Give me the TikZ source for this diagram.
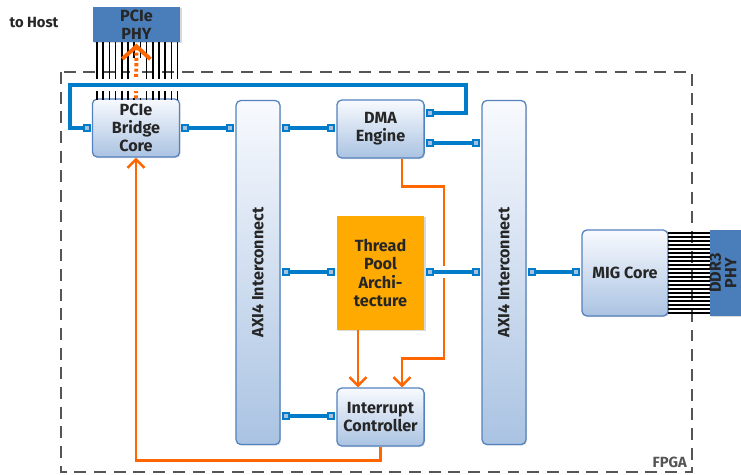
\documentclass[tikz,border=0pt]{standalone}
\usepackage{fontspec}
\setmainfont{Fira Sans}
\usepackage{xcolor}
\usetikzlibrary{arrows.meta, shadows, calc}
\definecolor{busblue}{RGB}{0,124,200}
\definecolor{boxline}{RGB}{84,130,190}
\definecolor{boxtop}{RGB}{248,250,254}
\definecolor{boxbottom}{RGB}{170,195,226}
\definecolor{phyblue}{RGB}{74,126,187}
\definecolor{portfill}{RGB}{165,192,224}
\definecolor{irqorange}{RGB}{255,102,0}
\definecolor{poolorange}{RGB}{255,170,0}
\definecolor{fpgagray}{RGB}{85,85,85}
\newcommand{\blockfont}{\bfseries\fontsize{11.5}{13}\selectfont}

\begin{document}
\begin{tikzpicture}[x=0.025cm, y=-0.025cm,
    block/.style={draw=boxline, line width=0.9pt, rounded corners=3.5pt,
        top color=boxtop, bottom color=boxbottom, align=center,
        font=\blockfont, text=black!85,
        minimum width=2.18cm, minimum height=1.45cm,
        drop shadow={opacity=0.25, shadow xshift=0.8pt, shadow yshift=-0.8pt}},
    axibox/.style={block, minimum width=1.1cm, minimum height=8.6cm},
    poolbox/.style={fill=poolorange, align=center, font=\blockfont, text=black!85,
        minimum width=2.18cm, minimum height=2.85cm,
        drop shadow={opacity=0.3, shadow xshift=1pt, shadow yshift=-1pt}},
    phybox/.style={fill=phyblue, align=center, font=\blockfont, text=black!85,
        drop shadow={opacity=0.3, shadow xshift=1pt, shadow yshift=-1pt}},
    vtext/.style={rotate=90, font=\blockfont, text=black!85, align=center},
    port/.style={draw=busblue, fill=portfill, line width=1.3pt,
        minimum size=0.17cm, inner sep=0pt},
    bus/.style={busblue, line width=2.6pt},
    gap/.style={white, line width=8pt},
    irq/.style={irqorange, line width=1.8pt,
        -{Straight Barb[length=6pt, width=12pt]}},
    wire/.style={black, line width=1pt}
]
\useasboundingbox (0,0) rectangle (741,474);

% FPGA border
\draw[fpgagray, line width=1.3pt, dash pattern=on 8.5pt off 5.5pt]
    (61,72) rectangle (692,472);
\node[fpgagray, font=\bfseries\fontsize{10.5}{12}\selectfont, anchor=south east, inner sep=2pt] (fpga) at (690,471) {FPGA};

% host side
\node[font=\bfseries\fontsize{10.5}{12}\selectfont, text=black!85] (host) at (34,23) {to Host};
\node[phybox, minimum width=2.18cm, minimum height=0.875cm, inner sep=0pt] (pciephy) at (136.5,24.5) {PCIe\\PHY};

% blocks
\node[block] (bridge) at (136,128) {PCIe\\Bridge\\Core};
\node[axibox] (axil) at (258,272.5) {};
\node[vtext] (axiltext) at (axil.center) {AXI4 Interconnect};
\node[block] (dma) at (380.5,129) {DMA\\Engine};
\node[poolbox] (pool) at (380.5,273) {Thread\\Pool\\Archi-\\tecture};
\node[block] (irqc) at (380.5,417) {Interrupt\\Controller};
\node[axibox] (axir) at (504,272.5) {};
\node[vtext] (axirtext) at (axir.center) {AXI4 Interconnect};
\node[block, minimum width=2.15cm, minimum height=2.15cm] (mig) at (625,273) {MIG Core};
\node[phybox, minimum width=2.2cm, minimum height=2.15cm] (ddrphy) at (754,273) {};
\node[vtext, inner sep=1pt] (ddrtext) at (723,273) {DDR3\\[-2pt]PHY};

% wire bundles
\foreach \x in {97,103.2,...,178} {
    \draw[wire] (\x,42) -- (\x,100);
}
\foreach \y in {233,237,...,314} {
    \draw[wire] (668,\y) -- (710,\y);
}

% PCIe link
\draw[white, line width=8pt] (bridge.north) -- ++(0,-40);
\draw[irqorange, line width=2.8pt, dash pattern=on 2.2pt off 1.6pt, shorten >=1pt,
    -{Straight Barb[length=9pt, width=20pt]}] (bridge.north) -- (pciephy.south);

% interrupts
\draw[irq] ($(dma.south)+(21.5,0)$) -- ++(0,28) -- ++(42,0) -- ++(0,172)
    -- ++(-42,0) -- ($(irqc.north)+(21.5,0)$);
\draw[irq] ($(pool.south)+(-22.5,0)$) -- ($(irqc.north)+(-22.5,0)$);
\draw[irq] (irqc.south) -- ++(0,14) -| (bridge.south);

% ports
\node[port] (bridge-w) at (87,128) {};
\node[port] (bridge-e) at (185,128) {};
\node[port] (axil-w) at (230,128) {};
\node[port] (axil-e1) at (286,128) {};
\node[port] (axil-e2) at (286,272) {};
\node[port] (axil-e3) at (286,416) {};
\node[port] (dma-w) at (331,128) {};
\node[port] (dma-e1) at (430,113) {};
\node[port] (dma-e2) at (430,143) {};
\node[port] (pool-w) at (331,272) {};
\node[port] (pool-e) at (430,272) {};
\node[port] (irqc-w) at (331,416) {};
\node[port] (axir-w1) at (476,143) {};
\node[port] (axir-w2) at (476,272) {};
\node[port] (axir-e) at (532,272) {};
\node[port] (mig-w) at (576,272) {};

% AXI buses
\draw[gap] (dma-e1) -- (466,113) -- (466,85) -- (70,85);
\draw[gap] (pool-e) -- (axir-w2);
\draw[bus] (dma-e1) -- (466,113) -- (466,85) -- (70,85) |- (bridge-w);
\draw[bus] (bridge-e) -- (axil-w);
\draw[bus] (axil-e1) -- (dma-w);
\draw[bus] (axil-e2) -- (pool-w);
\draw[bus] (axil-e3) -- (irqc-w);
\draw[bus] (dma-e2) -- (axir-w1);
\draw[bus] (pool-e) -- (axir-w2);
\draw[bus] (axir-e) -- (mig-w);
\end{tikzpicture}
\end{document}
